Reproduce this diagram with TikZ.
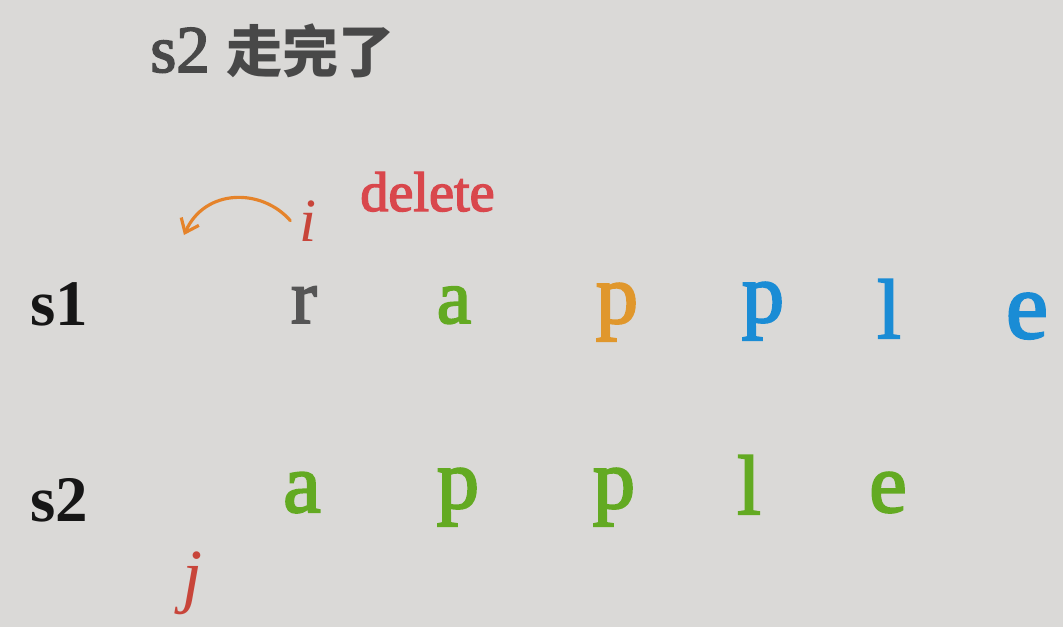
\documentclass[tikz,border=0pt]{standalone}
\usepackage{fontspec}
\setmainfont{Liberation Serif}
\newfontfamily\heavy[FakeBold=2.5]{Liberation Serif}
\newfontfamily\cjk{Noto Sans CJK SC}
\usetikzlibrary{arrows.meta}
\definecolor{paper}{HTML}{DAD9D7}
\definecolor{ink}{HTML}{161616}
\definecolor{slate}{HTML}{484848}
\definecolor{graphite}{HTML}{555555}
\definecolor{leaf}{HTML}{63AA22}
\definecolor{amber}{HTML}{E0972C}
\definecolor{sky}{HTML}{1A8CD5}
\definecolor{rose}{HTML}{D9474C}
\definecolor{brick}{HTML}{C8453A}
\definecolor{tangerine}{HTML}{E5832A}

\begin{document}
\begin{tikzpicture}[x=0.02cm,y=-0.02cm,>={Straight Barb[length=7pt,width=11pt]},
  every node/.style={anchor=base,inner sep=0pt},
  rowname/.style={anchor=base west,text=ink,font=\bfseries\fontsize{37}{40}\selectfont},
  letter/.style={font=\heavy\fontsize{48}{52}\selectfont},
  pointer/.style={text=brick,font=\itshape\fontsize{35}{38}\selectfont}]
  \fill[paper] (0,0) rectangle (1063,627);

  % heading
  \node[rowname,text=slate,font=\heavy\fontsize{38}{40}\selectfont] (title) at (150,72)
    {s2 {\cjk\bfseries\fontsize{32}{34}\selectfont 走完了}};

  % first string, with pointer i
  \node[rowname] (s1) at (30,325) {s1};
  \node[letter,text=graphite,font=\heavy\fontsize{44}{48}\selectfont] (r) at (304,323) {r};
  \node[letter,text=leaf,font=\heavy\fontsize{44}{48}\selectfont] (a1) at (454,323) {a};
  \node[letter,text=amber] (p1) at (617,323) {p};
  \node[letter,text=sky] (p2) at (763,322) {p};
  \node[letter,text=sky] (l1) at (889,338) {l};
  \node[letter,text=sky,font=\heavy\fontsize{54}{58}\selectfont] (e1) at (1027,338) {e};

  \node[pointer] (i) at (308,241) {i};
  \node[text=rose,font=\heavy\fontsize{32}{34}\selectfont,anchor=base west]
    (del) at (360,211) {delete};
  \coordinate (back) at (184,235);
  \draw[->,line width=1.8pt,draw=tangerine,line cap=round]
    ([xshift=-5pt]i.west) .. controls (262,188) and (205,188) .. (back);

  % second string, with pointer j
  \node[rowname] (s2) at (30,521) {s2};
  \node[letter,text=leaf] (a2) at (302,512) {a};
  \node[letter,text=leaf] (p3) at (458,508) {p};
  \node[letter,text=leaf] (p4) at (614,508) {p};
  \node[letter,text=leaf] (l2) at (749,514) {l};
  \node[letter,text=leaf] (e2) at (888,512) {e};

  \node[pointer,font=\itshape\fontsize{41}{44}\selectfont] (j) at (193,599) {j};
\end{tikzpicture}
\end{document}
